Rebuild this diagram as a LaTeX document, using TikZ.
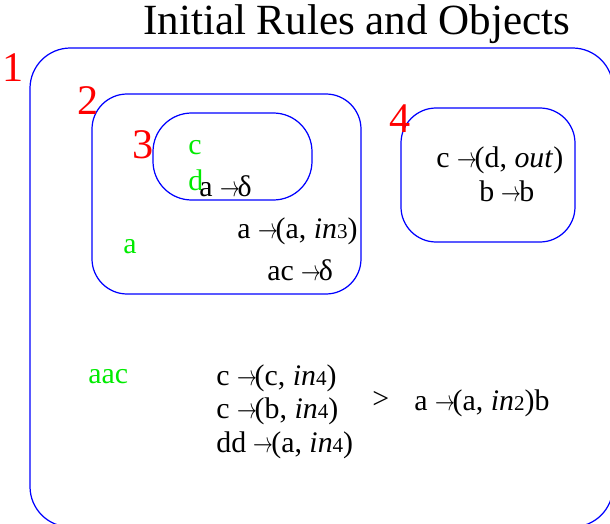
\documentclass[tikz,border=0pt]{standalone}
\usepackage{fontspec}
\setmainfont{Liberation Serif}
\newcommand{\rto}{ \scalebox{0.65}[0.95]{$\to$}\kern-0.07em}
\newcommand{\inm}[1]{\textit{in}{\fontsize{12}{12}\selectfont #1}}
\tikzset{
  membrane/.style={blue, line width=0.7pt},
  tag/.style={red, inner sep=0pt, font=\fontsize{24}{26}\selectfont},
  rule/.style={inner sep=0pt, anchor=west, font=\fontsize{17}{18}\selectfont},
  obj/.style={rule, text=green!92!black}
}
\begin{document}
\begin{tikzpicture}[x=0.02cm, y=-0.02cm]
  \useasboundingbox (0,0) rectangle (610,524);
  \clip (0,0) rectangle (610,524);
  \node[inner sep=0pt, anchor=west, font=\fontsize{24.5}{26}\selectfont] (title) at (143,24) {Initial Rules and Objects};
  % membranes
  \draw[membrane, rounded corners=23pt] (30,48) rectangle (613,527);
  \draw[membrane, rounded corners=20pt] (92,94) rectangle (361,294);
  \draw[membrane, rounded corners=22pt] (153,113) rectangle (312,200);
  \draw[membrane, rounded corners=20pt] (401,108) rectangle (575,242);
  \node[tag] (m1) at (13,68) {1};
  \node[tag] (m2) at (88,101) {2};
  \node[tag] (m3) at (143,145) {3};
  \node[tag] (m4) at (400,119) {4};
  % membrane 3
  \node[obj] (o3c) at (188,148) {c};
  \node[obj] (o3d) at (188,180) {d};
  \node[rule] (r3a) at (199,186) {a\rto δ};
  % membrane 2
  \node[obj] (o2a) at (123,247) {a};
  \node[rule] (r2a) at (237,231) {a\rto(a, \inm{3})};
  \node[rule] (r2b) at (267,270) {ac\rto δ};
  % membrane 4
  \node[rule] (r4a) at (436,160) {c\rto(d, \textit{out})};
  \node[rule] (r4b) at (479,191) {b\rto b};
  % membrane 1
  \node[obj] (o1) at (88,377) {aac};
  \node[rule] (r1a) at (216,378) {c\rto(c, \inm{4})};
  \node[rule] (r1b) at (216,411) {c\rto(b, \inm{4})};
  \node[rule] (r1c) at (216,445) {dd\rto(a, \inm{4})};
  \node[rule] (prio) at (372,400) {>};
  \node[rule] (r1d) at (414,403) {a\rto(a, \inm{2})b};
\end{tikzpicture}
\end{document}
